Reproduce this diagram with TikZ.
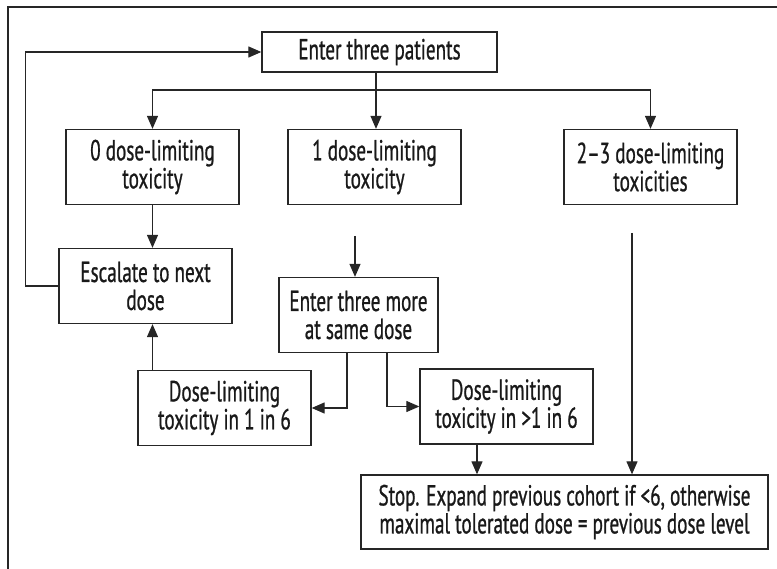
\documentclass[tikz,border=0pt]{standalone}
\usepackage{fontspec}
\usepackage{tikz}
\usetikzlibrary{arrows.meta,positioning,calc}
\newfontfamily\condfont[FakeStretch=0.66,FakeBold=0.8]{PT Sans}

\begin{document}
\begin{tikzpicture}[x=1pt,y=-1pt]
\tikzstyle{fleche}=[->,>={Triangle[length=13pt,width=11pt]},line width=1.2pt,draw=black!85]
\tikzstyle{boite}=[draw=black!85,line width=1.3pt,align=center,inner sep=0pt,
  minimum width=173pt,minimum height=75pt,font=\condfont\fontsize{29}{28}\selectfont,text=black!90]
\def\NiveauA{52}
\def\NiveauB{167}
\def\NiveauC{286}
\def\NiveauD{408}
\def\NiveauE{512}
\useasboundingbox (0,0) rectangle (777,569);
% cadre
\draw[line width=1.2pt,black!85] (8,569) -- (8,7) -- (777,7);
% boites
\node[boite,minimum width=235pt,minimum height=40pt] (E) at (379.5,\NiveauA) {Enter three patients};
\node[boite] (T0) at (152.5,\NiveauB) {0 dose-limiting\\toxicity};
\node[boite] (T1) at (374.5,\NiveauB) {1 dose-limiting\\toxicity};
\node[boite] (T23) at (650.5,\NiveauB) {2–3 dose-limiting\\toxicities};
\node[boite] (Esc) at (145.5,\NiveauC) {Escalate to next\\dose};
\node[boite,minimum width=159pt] (More) at (358.5,315) {Enter three more\\at same dose};
\node[boite] (D1) at (224.5,\NiveauD) {Dose-limiting\\toxicity in 1 in 6};
\node[boite] (D2) at (506.5,406.5) {Dose-limiting\\toxicity in >1 in 6};
\node[boite,minimum width=407pt,minimum height=74pt] (Stop) at (564.5,\NiveauE) {Stop. Expand previous cohort if <6, otherwise\\maximal tolerated dose = previous dose level};
\coordinate (bus) at (376,90);
\coordinate (c1) at (355,236);
\coordinate (c2) at (477,444);
\coordinate (c3) at (632,233);
% liens
\draw[fleche] (E.south -| bus) -- (bus |- T1.north);
\draw[fleche] (bus) -| (T0.north);
\draw[fleche] (bus) -| (T23.north);
\draw[fleche] (T0.south) -- (T0.south |- Esc.north);
\draw[fleche] (Esc.west) -- ++(-33,0) |- (E.west);
\draw[fleche] (c1) -- (c1 |- More.north);
\draw[fleche] ([xshift=-11.5pt]More.south) |- (D1.east);
\draw[fleche] ([xshift=28.5pt]More.south) |- (D2.west);
\draw[fleche] (D1.north -| T0.south) -- (Esc.south -| T0.south);
\draw[fleche] (c2) -- (c2 |- Stop.north);
\draw[fleche] (c3) -- (c3 |- Stop.north);
\end{tikzpicture}
\end{document}
